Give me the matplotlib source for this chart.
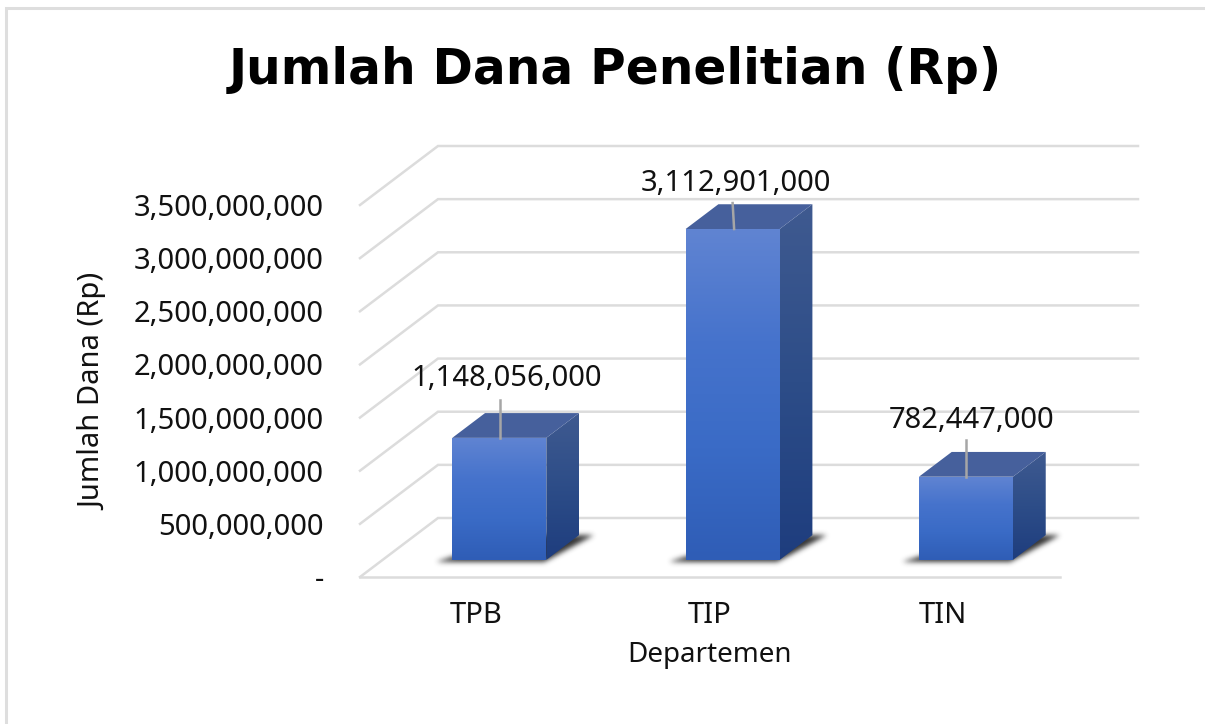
import numpy as np
import matplotlib
matplotlib.use("Agg")
import matplotlib.pyplot as plt
from matplotlib.lines import Line2D
from matplotlib.patches import Polygon
from matplotlib.path import Path
from matplotlib.colors import LinearSegmentedColormap
from matplotlib.ticker import FuncFormatter

categories = ["TPB", "TIP", "TIN"]
values = [1148056000, 3112901000, 782447000]
yticks = [0, 500000000, 1000000000, 1500000000, 2000000000, 2500000000, 3000000000, 3500000000]
title = "Jumlah Dana Penelitian (Rp)"
xlabel = "Departemen"
ylabel = "Jumlah Dana (Rp)"
label_offsets = [(7, 59), (3, 46), (6, 56)]      # label centre offset from bar front-top centre, px
leader_lengths = [38, 26, 37]
leader_shift = [1, 1.5, 0]
leader_lean = [0, -1.5, 0]

W, H = 1205, 724
fig = plt.figure(figsize=(W / 100, H / 100), dpi=100, facecolor="white")
plt.rcParams["font.family"] = ["Noto Sans", "DejaVu Sans"]

L, R, T, B = 360, 1060, 205, 577
ax = fig.add_axes([L / W, 1 - B / H, (R - L) / W, (B - T) / H])
ax.patch.set_visible(False)
for s in ax.spines.values():
    s.set_visible(False)

ymax = yticks[-1]
ax.set_xlim(0, len(categories))
ax.set_ylim(0, ymax)
PX_X = (R - L) / len(categories)
PX_Y = (B - T) / ymax
DX = 78 / PX_X
DY = 59 / PX_Y

def proj(x, v, d):
    return x + d * DX, v + d * DY

GRID = "#dcdcdc"
for v in yticks:
    p0, p1, p2 = proj(0, v, 0), proj(0, v, 1), proj(len(categories), v, 1)
    ax.plot([p0[0], p1[0], p2[0]], [p0[1], p1[1], p2[1]], color=GRID, lw=1.8,
            clip_on=False, zorder=1, solid_joinstyle="miter")
f0, f1 = proj(0, 0, 0), proj(len(categories), 0, 0)
ax.plot([f0[0], f1[0]], [f0[1], f1[1]], color=GRID, lw=1.8, clip_on=False, zorder=1)

front_cm = LinearSegmentedColormap.from_list("f", ["#6084d2", "#4673cc", "#3a6bc6", "#2f5db6"])
side_cm = LinearSegmentedColormap.from_list("s", ["#3f5a90", "#2d4d88", "#1e3d7e"])

def gradient_face(pts, cmap, z):
    poly = Polygon(pts, closed=True, transform=ax.transData, fc="none", ec="none")
    ax.add_patch(poly)
    xs, ys = zip(*pts)
    im = ax.imshow(np.linspace(0, 1, 128)[:, None], cmap=cmap, aspect="auto",
                   extent=[min(xs), max(xs), min(ys), max(ys)], origin="upper",
                   interpolation="bilinear", zorder=z)
    im.set_clip_path(poly)
    im.set_clip_box(fig.bbox)

def soft_shadow(pts, sigma=2.5, z=2):
    xs, ys = zip(*pts)
    pad_x, pad_y = 12 / PX_X, 12 / PX_Y
    x0, x1, y0, y1 = min(xs) - pad_x, max(xs) + pad_x, min(ys) - pad_y, max(ys) + pad_y
    nx, ny = int((x1 - x0) * PX_X * 2), int((y1 - y0) * PX_Y * 2)
    gx, gy = np.meshgrid(np.linspace(x0, x1, nx), np.linspace(y1, y0, ny))
    inside = Path(pts).contains_points(np.c_[gx.ravel(), gy.ravel()]).reshape(ny, nx).astype(float)
    r = int(sigma * 6)
    k = np.exp(-0.5 * (np.arange(-r, r + 1) / (sigma * 2)) ** 2)
    k /= k.sum()
    blur = np.apply_along_axis(lambda a: np.convolve(a, k, mode="same"), 0, inside)
    blur = np.apply_along_axis(lambda a: np.convolve(a, k, mode="same"), 1, blur)
    rgba = np.zeros((ny, nx, 4))
    rgba[..., :3] = 0.12
    rgba[..., 3] = blur * 0.9
    im = ax.imshow(rgba, aspect="auto", extent=[x0, x1, y0, y1], origin="upper",
                   interpolation="bilinear", zorder=z)
    im.set_clip_box(fig.bbox)

w, d0, d1 = 0.403, 0.29, 0.71
for i, v in enumerate(values):
    lo, hi = i + 0.5 - w / 2, i + 0.5 + w / 2
    soft_shadow([proj(lo - 0.06, 0, d0 - 0.035), proj(hi, 0, d0 - 0.035),
                 proj(hi + 0.06, 0, d1), proj(lo + 0.15, 0, d1)])
    gradient_face([proj(lo, 0, d0), proj(hi, 0, d0), proj(hi, v, d0), proj(lo, v, d0)], front_cm, 4)
    gradient_face([proj(hi, 0, d0), proj(hi, 0, d1), proj(hi, v, d1), proj(hi, v, d0)], side_cm, 3)
    ax.add_patch(Polygon([proj(lo, v, d0), proj(hi, v, d0), proj(hi, v, d1), proj(lo, v, d1)],
                         closed=True, fc="#46609c", ec="none", clip_on=False, zorder=3))
    tx, ty = proj(i + 0.5, v, d0)
    lx = tx + leader_shift[i] / PX_X
    ax.plot([lx, lx + leader_lean[i] / PX_X], [ty, ty + leader_lengths[i] / PX_Y],
            color="#a6a6a6", lw=1.8, clip_on=False, zorder=5)
    ox, oy = label_offsets[i]
    ax.annotate(f"{v:,}", xy=(tx, ty), xytext=(ox, oy), textcoords="offset pixels",
                ha="center", va="center", fontsize=21, color="#111111",
                annotation_clip=False, zorder=6)

ax.set_xticks([i + 0.5 for i in range(len(categories))], categories)
ax.set_yticks(yticks)
ax.yaxis.set_major_formatter(FuncFormatter(lambda v, _: "-" if v == 0 else f"{int(v):,}"))
ax.tick_params(axis="both", length=0, labelsize=21, colors="#111111")
ax.tick_params(axis="y", pad=26)
ax.tick_params(axis="x", pad=17)
ax.set_xlabel(xlabel, fontsize=20, color="#111111", labelpad=8)
fig.text(94 / W, 1 - 392 / H, ylabel, rotation=90, ha="center", va="center",
         fontsize=21, color="#111111")
fig.text(615 / W, 1 - 70 / H, title, ha="center", va="center", fontsize=35,
         fontweight="bold", color="black", family=["DejaVu Sans"])

fig.add_artist(Line2D([6 / W, 6 / W, 1], [0, 1 - 8 / H, 1 - 8 / H], color="#dedede", lw=2.2,
                      transform=fig.transFigure, solid_joinstyle="miter"))
ax.set_xlim(0, len(categories))
ax.set_ylim(0, ymax)
fig.savefig("out.png", dpi=100, facecolor="white")
